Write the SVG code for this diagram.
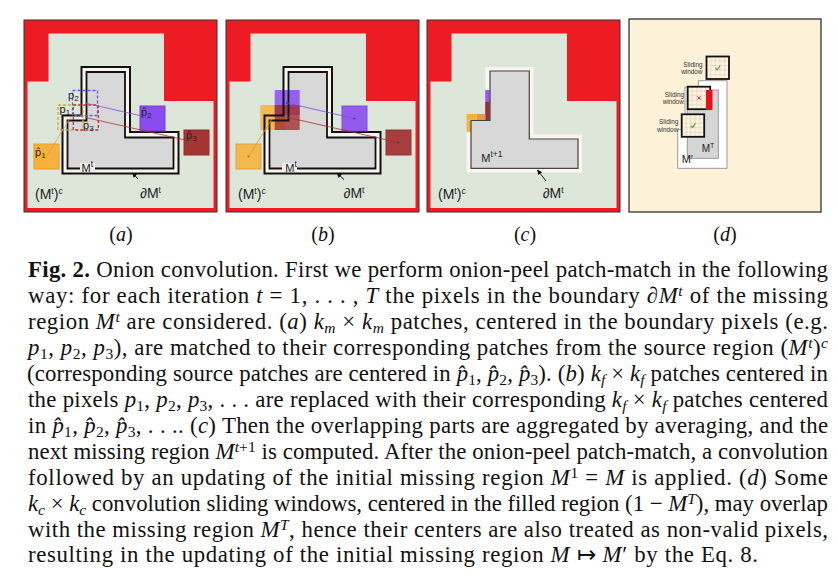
<svg xmlns="http://www.w3.org/2000/svg" width="838" height="584" viewBox="0 0 838 584">
<style>
.c{font-family:"Liberation Serif","Times New Roman",serif;font-size:22.8px;fill:#111}
.i{font-style:italic}
.sb{font-size:15.5px;baseline-shift:-4px}
.sp{font-size:15.5px;baseline-shift:7px}
.lab{font-family:"Liberation Serif",serif;font-size:20px;fill:#111}
.s{font-family:"Liberation Sans",Arial,sans-serif;fill:#222}
.s11{font-size:11px}
.s14{font-size:14px}
.s7{font-size:6.4px;fill:#333}
.ssb{font-size:8px;baseline-shift:-2px}
.ssp{font-size:8.5px;baseline-shift:5px}
.frame{fill:#ed1c24;stroke:#333;stroke-width:1}
.green{fill:#dce7da}
.lo{fill:#fcf5ee;stroke:#111;stroke-width:2}
.li{fill:#d8d8d8;stroke:#111;stroke-width:1.8}
.ln{fill:none;stroke:#111}
.dash{fill:none;stroke-width:1.3;stroke-dasharray:3 2}
.grid{stroke:#c9a878;stroke-width:0.5;stroke-dasharray:1 0.8}
</style>
<defs>
<marker id="ah" viewBox="0 0 10 10" refX="9" refY="5" markerWidth="5" markerHeight="5" orient="auto"><path d="M0,0 L10,5 L0,10 z" fill="#111"/></marker>
<g id="bg"><rect class="frame" x="0" y="0" width="193" height="192"/><polygon class="green" points="24.5,13.5 140,13.5 140,81 189.5,81 189.5,188 3.5,188 3.5,61.5 24.5,61.5"/></g>
<g id="win"><rect width="22.5" height="22.5" fill="#fdf3e2"/><path class="grid" d="M4.5,0V22.5M9,0V22.5M13.5,0V22.5M18,0V22.5M0,4.5H22.5M0,9H22.5M0,13.5H22.5M0,18H22.5"/><rect width="22.5" height="22.5" fill="none" stroke="#111" stroke-width="1.8"/></g>
</defs>

<g id="panel-a" transform="translate(24,20)">
<use href="#bg"/>
<polygon class="lo" points="57.5,47 106,47 106,112 154.5,112 154.5,153.5 38.5,153.5 38.5,95.5 57.5,95.5"/>
<polygon class="li" points="62.5,52 101,52 101,117.5 149.5,117.5 149.5,148.5 43.5,148.5 43.5,100.5 62.5,100.5"/>
<rect x="10" y="124" width="25" height="25" fill="#f6b23c" stroke="#e39d2c"/>
<rect x="116" y="86" width="25" height="25" fill="#8a4cf0" stroke="#7440d8"/>
<rect x="160" y="110" width="25" height="25" fill="#a53535" stroke="#8f2d2d"/>
<g stroke-width="0.8">
<line x1="22.5" y1="136.5" x2="46.5" y2="97.5" stroke="#e0a040"/>
<line x1="61" y1="83" x2="128.5" y2="98.5" stroke="#8050e0"/>
<line x1="61.5" y1="97.5" x2="172.5" y2="122.5" stroke="#b03030"/>
</g>
<rect class="dash" x="34" y="85" width="25" height="25" stroke="#e0a035"/>
<rect class="dash" x="48.5" y="70.5" width="25" height="25" stroke="#5560e8"/>
<rect class="dash" x="49.3" y="85" width="25" height="25" stroke="#c03a3a"/>
<text class="s s11" x="44" y="79">p<tspan class="ssb">2</tspan></text>
<text class="s s11" x="35.5" y="93">p<tspan class="ssb">1</tspan></text>
<text class="s s11" x="59" y="109">p<tspan class="ssb">3</tspan></text>
<text class="s s11" x="11" y="136">p&#x302;<tspan class="ssb">1</tspan></text>
<text class="s s11" x="117" y="96">p&#x302;<tspan class="ssb">2</tspan></text>
<text class="s s11" x="162" y="119">p&#x302;<tspan class="ssb">3</tspan></text>
<rect x="56" y="143" width="15" height="9" fill="#f0eeec"/>
<text class="s s11" x="57.5" y="151.5">M<tspan class="ssp">t</tspan></text>
<text class="s s14" x="11" y="178.5">(M<tspan class="ssp">t</tspan>)<tspan class="ssp">c</tspan></text>
<text class="s s14" x="116" y="177.5">∂M<tspan class="ssp">t</tspan></text>
<line x1="114" y1="159" x2="108.5" y2="153" stroke="#111" stroke-width="1" marker-end="url(#ah)"/>
</g>

<g id="panel-b" transform="translate(226,20)">
<use href="#bg"/>
<polygon points="57.5,47 106,47 106,112 154.5,112 154.5,153.5 38.5,153.5 38.5,95.5 57.5,95.5" fill="#fcf5ee"/>
<polygon points="62.5,52 101,52 101,117.5 149.5,117.5 149.5,148.5 43.5,148.5 43.5,100.5 62.5,100.5" fill="#d8d8d8"/>
<rect x="34.3" y="85" width="25" height="25" fill="#f6b23c" opacity="0.85"/>
<rect x="48.7" y="70" width="25" height="25" fill="#8a4cf0" opacity="0.85"/>
<rect x="48.7" y="85" width="25" height="25" fill="#a32f2f" opacity="0.8"/>
<polygon class="ln" stroke-width="2" points="57.5,47 106,47 106,112 154.5,112 154.5,153.5 38.5,153.5 38.5,95.5 57.5,95.5"/>
<polygon class="ln" stroke-width="1.8" points="62.5,52 101,52 101,117.5 149.5,117.5 149.5,148.5 43.5,148.5 43.5,100.5 62.5,100.5"/>
<rect x="10" y="124" width="25" height="25" fill="#f6b23c" stroke="#e39d2c" opacity="0.9"/>
<rect x="116" y="86" width="25" height="25" fill="#8a4cf0" stroke="#7440d8" opacity="0.9"/>
<rect x="160" y="110" width="25" height="25" fill="#a53535" stroke="#8f2d2d" opacity="0.95"/>
<g stroke-width="0.8">
<line x1="22.5" y1="136.5" x2="46.8" y2="97.5" stroke="#d89a38"/>
<line x1="61" y1="83" x2="128.5" y2="98.5" stroke="#7a48e0"/>
<line x1="62" y1="97.5" x2="172.5" y2="122.5" stroke="#a83030"/>
</g>
<g fill="#7a2a2a">
<circle cx="22.5" cy="136.5" r="1.1" fill="#c07020"/>
<circle cx="128.5" cy="98.5" r="1.1" fill="#5a2aa0"/>
<circle cx="172.5" cy="122.5" r="1.1"/>
<circle cx="61" cy="83" r="1"/>
<circle cx="62" cy="97.5" r="1"/>
</g>
<rect x="56" y="143" width="15" height="9" fill="#f0eeec"/>
<text class="s s11" x="59.3" y="151.5">M<tspan class="ssp">t</tspan></text>
<text class="s s14" x="12" y="178.5">(M<tspan class="ssp">t</tspan>)<tspan class="ssp">c</tspan></text>
<text class="s s14" x="117.5" y="177.5">∂M<tspan class="ssp">t</tspan></text>
<line x1="118" y1="159.5" x2="111" y2="153" stroke="#111" stroke-width="1" marker-end="url(#ah)"/>
</g>

<g id="panel-c" transform="translate(427,20)">
<use href="#bg"/>
<polygon points="58.5,47 106.5,47 106.5,114.5 155,114.5 155,152.5 39.5,152.5 39.5,95.5 58.5,95.5" fill="#fcf5ee"/>
<rect x="58.2" y="70" width="4.6" height="12" fill="#9a5ae8"/>
<rect x="58.2" y="82" width="4.6" height="18.5" fill="#9a2e3a"/>
<rect x="39.5" y="94" width="10" height="6.5" fill="#f2b440"/>
<rect x="49.5" y="94" width="8.7" height="6.5" fill="#e39a48"/>
<rect x="39.5" y="100.5" width="4.5" height="11.5" fill="#f2b440"/>
<polygon points="63,51 102.3,51 102.3,119 151,119 151,148.3 44,148.3 44,100.5 63,100.5" fill="#d8d8d8" stroke="#444" stroke-width="1.2"/>
<text class="s s11" x="54.3" y="141.7">M<tspan class="ssp">t+1</tspan></text>
<text class="s s14" x="11" y="178.5">(M<tspan class="ssp">t</tspan>)<tspan class="ssp">c</tspan></text>
<text class="s s14" x="115.7" y="177.5">∂M<tspan class="ssp">t</tspan></text>
<line x1="119" y1="161" x2="110.5" y2="150" stroke="#111" stroke-width="1" marker-end="url(#ah)"/>
</g>

<g id="panel-d" transform="translate(629,19)">
<rect width="192" height="193" fill="#fdf1d8" stroke="#222" stroke-width="1.2"/>
<polygon points="69.3,61.7 98,61.7 98,149.3 48.7,149.3 48.7,110.5 56,110.5 56,68 69.3,68" fill="#fff" stroke="#999" stroke-width="1"/>
<rect x="58.3" y="71" width="31" height="68.3" fill="#d6d6d6" stroke="#999" stroke-width="1"/>
<use href="#win" x="77.5" y="37.5"/>
<use href="#win" x="58.7" y="67.7"/>
<use href="#win" x="52.7" y="95.3"/>
<rect x="77" y="71" width="6.5" height="20" fill="#e3131b"/>
<path d="M86.6,48.9 L88.3,50.8 L91.2,46.5" fill="none" stroke="#2eaa3a" stroke-width="1.1"/>
<path d="M61.8,106.7 L63.5,108.6 L66.4,104.3" fill="none" stroke="#2eaa3a" stroke-width="1.1"/>
<path d="M68.4,77.4 L71.4,80.4 M71.4,77.4 L68.4,80.4" stroke="#e02020" stroke-width="1"/>
<text class="s s7" text-anchor="end" x="73.5" y="47.7">Sliding</text>
<text class="s s7" text-anchor="end" x="73.5" y="54.7">window</text>
<text class="s s7" text-anchor="end" x="55" y="77.7">Sliding</text>
<text class="s s7" text-anchor="end" x="55" y="85">window</text>
<text class="s s7" text-anchor="end" x="49.3" y="105">Sliding</text>
<text class="s s7" text-anchor="end" x="49.3" y="112.7">window</text>
<text class="s" font-size="10" x="72.7" y="132.7">M<tspan font-size="7" baseline-shift="4px">T</tspan></text>
<text class="s" font-size="11" x="52.7" y="144.3">M′</text>
</g>

<g id="sublabels">
<text class="lab" x="121" y="241" text-anchor="middle">(<tspan class="i">a</tspan>)</text>
<text class="lab" x="323" y="241" text-anchor="middle">(<tspan class="i">b</tspan>)</text>
<text class="lab" x="525" y="241" text-anchor="middle">(<tspan class="i">c</tspan>)</text>
<text class="lab" x="725" y="241" text-anchor="middle">(<tspan class="i">d</tspan>)</text>
</g>

<g id="caption">
<text class="c" x="28" y="277" textLength="800" lengthAdjust="spacing"><tspan font-weight="bold">Fig. 2.</tspan> Onion convolution. First we perform onion-peel patch-match in the following</text>
<text class="c" x="28" y="303" textLength="800" lengthAdjust="spacing">way: for each iteration <tspan class="i">t</tspan> = 1, . . . , <tspan class="i">T</tspan> the pixels in the boundary ∂<tspan class="i">M</tspan><tspan class="sp i">t</tspan> of the missing</text>
<text class="c" x="28" y="329" textLength="800" lengthAdjust="spacing">region <tspan class="i">M</tspan><tspan class="sp i">t</tspan> are considered. (<tspan class="i">a</tspan>) <tspan class="i">k</tspan><tspan class="sb i">m</tspan> × <tspan class="i">k</tspan><tspan class="sb i">m</tspan> patches, centered in the boundary pixels (e.g.</text>
<text class="c" x="28" y="355" textLength="800" lengthAdjust="spacing"><tspan class="i">p</tspan><tspan class="sb">1</tspan>, <tspan class="i">p</tspan><tspan class="sb">2</tspan>, <tspan class="i">p</tspan><tspan class="sb">3</tspan>), are matched to their corresponding patches from the source region (<tspan class="i">M</tspan><tspan class="sp i">t</tspan>)<tspan class="sp i">c</tspan></text>
<text class="c" x="27" y="381" textLength="801" lengthAdjust="spacing">(corresponding source patches are centered in <tspan class="i">p&#x302;</tspan><tspan class="sb">1</tspan>, <tspan class="i">p&#x302;</tspan><tspan class="sb">2</tspan>, <tspan class="i">p&#x302;</tspan><tspan class="sb">3</tspan>). (<tspan class="i">b</tspan>) <tspan class="i">k</tspan><tspan class="sb i">f</tspan> × <tspan class="i">k</tspan><tspan class="sb i">f</tspan> patches centered in</text>
<text class="c" x="28" y="407" textLength="800" lengthAdjust="spacing">the pixels <tspan class="i">p</tspan><tspan class="sb">1</tspan>, <tspan class="i">p</tspan><tspan class="sb">2</tspan>, <tspan class="i">p</tspan><tspan class="sb">3</tspan>, . . . are replaced with their corresponding <tspan class="i">k</tspan><tspan class="sb i">f</tspan> × <tspan class="i">k</tspan><tspan class="sb i">f</tspan> patches centered</text>
<text class="c" x="28" y="433" textLength="800" lengthAdjust="spacing">in <tspan class="i">p&#x302;</tspan><tspan class="sb">1</tspan>, <tspan class="i">p&#x302;</tspan><tspan class="sb">2</tspan>, <tspan class="i">p&#x302;</tspan><tspan class="sb">3</tspan>, . . .. (<tspan class="i">c</tspan>) Then the overlapping parts are aggregated by averaging, and the</text>
<text class="c" x="28" y="459" textLength="800" lengthAdjust="spacing">next missing region <tspan class="i">M</tspan><tspan class="sp i">t</tspan><tspan class="sp">+1</tspan> is computed. After the onion-peel patch-match, a convolution</text>
<text class="c" x="28" y="485" textLength="800" lengthAdjust="spacing">followed by an updating of the initial missing region <tspan class="i">M</tspan><tspan class="sp">1</tspan> = <tspan class="i">M</tspan> is applied. (<tspan class="i">d</tspan>) Some</text>
<text class="c" x="28" y="511" textLength="800" lengthAdjust="spacing"><tspan class="i">k</tspan><tspan class="sb i">c</tspan> × <tspan class="i">k</tspan><tspan class="sb i">c</tspan> convolution sliding windows, centered in the filled region (1 − <tspan class="i">M</tspan><tspan class="sp i">T</tspan>), may overlap</text>
<text class="c" x="28" y="537" textLength="800" lengthAdjust="spacing">with the missing region <tspan class="i">M</tspan><tspan class="sp i">T</tspan>, hence their centers are also treated as non-valid pixels,</text>
<text class="c" x="28" y="562" textLength="730" lengthAdjust="spacing">resulting in the updating of the initial missing region <tspan class="i">M</tspan> ↦ <tspan class="i">M</tspan>′ by the Eq. 8.</text>
</g>
</svg>
